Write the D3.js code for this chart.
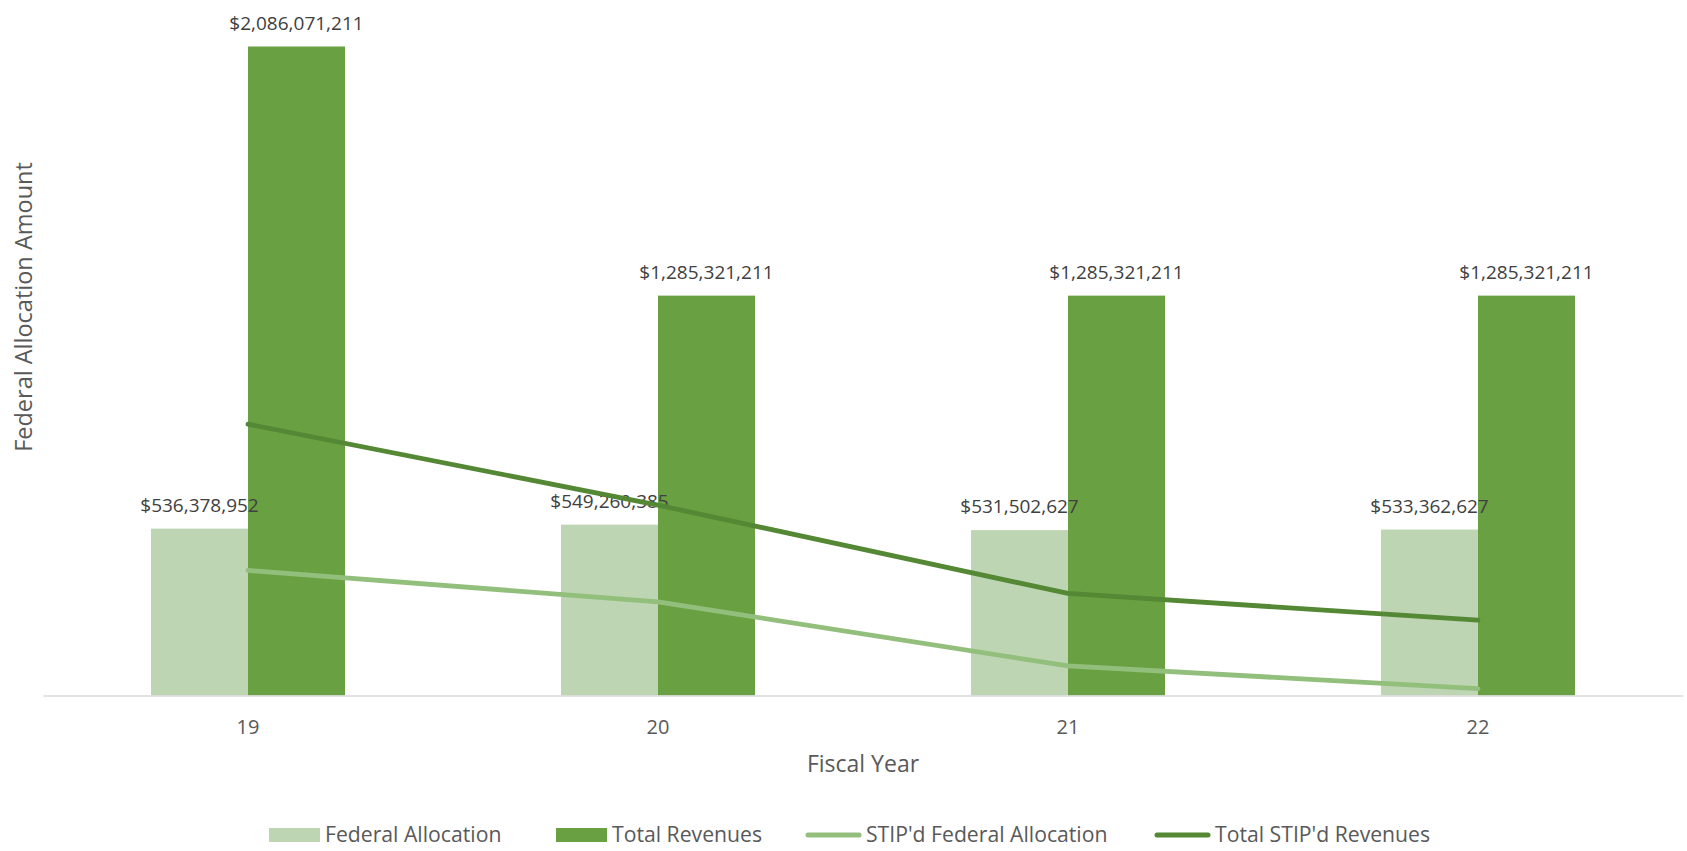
<!DOCTYPE html>
<html>
<head>
<meta charset="utf-8">
<script src="https://cdn.jsdelivr.net/npm/d3@7"></script>
<style>
  html, body { margin: 0; padding: 0; background: #ffffff; }
  svg { display: block; }
  text { font-family: "Open Sans", "Noto Sans", sans-serif; }
</style>
</head>
<body>
<svg id="chart" width="1687" height="851"></svg>
<script>
// ---- data ----
const years = ["19", "20", "21", "22"];
const federalAllocation = [536378952, 549260385, 531502627, 533362627];
const totalRevenues = [2086071211, 1285321211, 1285321211, 1285321211];
const stipdFederalAllocation = [402000000, 301000000, 95000000, 22000000];
const totalStipdRevenues = [872000000, 612000000, 328000000, 242000000];
const barSeriesNames = ["Federal Allocation", "Total Revenues"];
const lineSeriesNames = ["STIP'd Federal Allocation", "Total STIP'd Revenues"];
const xAxisTitle = "Fiscal Year";
const yAxisTitle = "Federal Allocation Amount";

// ---- styling ----
const colors = {
  "Federal Allocation": "#bdd5b2",
  "Total Revenues": "#69a142",
  "STIP'd Federal Allocation": "#93bf7d",
  "Total STIP'd Revenues": "#548835"
};

const svg = d3.select("#chart");
const plot = { left: 43, right: 1683, bottom: 695.5 };

const groupWidth = 194;
const step = (plot.right - plot.left) / years.length;
const pInner = 1 - groupWidth / step;

const x0 = d3.scaleBand()
  .domain(years)
  .range([plot.left, plot.right])
  .paddingInner(pInner)
  .paddingOuter(pInner / 2)
  .align(0.5);

const x1 = d3.scaleBand()
  .domain(barSeriesNames)
  .range([0, x0.bandwidth()])
  .padding(0);

const yMax = 2200000000;
const y = d3.scaleLinear()
  .domain([0, yMax])
  .range([plot.bottom, plot.bottom - yMax * (649 / 2086071211)]);

const barData = years.map((yr, i) => ({
  year: yr,
  values: [
    { series: "Federal Allocation", value: federalAllocation[i] },
    { series: "Total Revenues", value: totalRevenues[i] }
  ]
}));

// bars
const groups = svg.append("g").selectAll("g")
  .data(barData)
  .join("g")
  .attr("transform", d => `translate(${x0(d.year)},0)`);

groups.selectAll("rect")
  .data(d => d.values)
  .join("rect")
  .attr("x", d => x1(d.series))
  .attr("y", d => y(d.value))
  .attr("width", x1.bandwidth())
  .attr("height", d => y(0) - y(d.value))
  .attr("fill", d => colors[d.series]);

// x axis
const xAxis = d3.axisBottom(x0).tickSize(0).tickPadding(24);
const gx = svg.append("g")
  .attr("transform", `translate(0,${plot.bottom})`)
  .call(xAxis);
gx.select(".domain").attr("stroke", "#d9d9d9").attr("stroke-width", 1.5);
gx.selectAll("text")
  .attr("font-size", 20)
  .attr("fill", "#595959")
  .style("font-family", "'Open Sans', sans-serif");

// lines
const cx = d => x0(d) + x0.bandwidth() / 2;
const lineGen = d3.line()
  .x(d => cx(d.year))
  .y(d => y(d.value));

const lineData = [
  { name: "STIP'd Federal Allocation", values: years.map((yr, i) => ({ year: yr, value: stipdFederalAllocation[i] })) },
  { name: "Total STIP'd Revenues", values: years.map((yr, i) => ({ year: yr, value: totalStipdRevenues[i] })) }
];

svg.append("g").selectAll("path")
  .data(lineData)
  .join("path")
  .attr("d", d => lineGen(d.values))
  .attr("fill", "none")
  .attr("stroke", d => colors[d.name])
  .attr("stroke-width", 4.8)
  .attr("stroke-linecap", "round")
  .attr("stroke-linejoin", "round");

// data labels
const fmt = v => "$" + d3.format(",")(v);
groups.selectAll("text.lbl")
  .data(d => d.values)
  .join("text")
  .attr("class", "lbl")
  .attr("x", d => x1(d.series) + x1.bandwidth() / 2)
  .attr("y", d => y(d.value) - 17)
  .attr("text-anchor", "middle")
  .attr("font-size", 19)
  .attr("fill", "#404040")
  .text(d => fmt(d.value));

// axis titles
svg.append("text")
  .attr("x", (plot.left + plot.right) / 2)
  .attr("y", 772)
  .attr("text-anchor", "middle")
  .attr("font-size", 23)
  .attr("fill", "#595959")
  .text(xAxisTitle);

svg.append("text")
  .attr("transform", `translate(32,${307}) rotate(-90)`)
  .attr("text-anchor", "middle")
  .attr("font-size", 23.5)
  .attr("fill", "#595959")
  .text(yAxisTitle);

// legend
const legendItems = [
  { name: "Federal Allocation", type: "rect", x: 269 },
  { name: "Total Revenues", type: "rect", x: 556 },
  { name: "STIP'd Federal Allocation", type: "line", x: 806 },
  { name: "Total STIP'd Revenues", type: "line", x: 1155 }
];
const ly = 835;
const lg = svg.append("g").selectAll("g")
  .data(legendItems)
  .join("g")
  .attr("transform", d => `translate(${d.x},${ly})`);

lg.filter(d => d.type === "rect").append("rect")
  .attr("x", 0).attr("y", -7).attr("width", 51).attr("height", 14)
  .attr("fill", d => colors[d.name]);

lg.filter(d => d.type === "line").append("line")
  .attr("x1", 2).attr("x2", 53).attr("y1", 0).attr("y2", 0)
  .attr("stroke", d => colors[d.name])
  .attr("stroke-width", 5)
  .attr("stroke-linecap", "round");

lg.append("text")
  .attr("x", d => d.type === "rect" ? 56 : 60)
  .attr("y", 0)
  .attr("dy", "0.35em")
  .attr("font-size", 21.2)
  .attr("fill", "#595959")
  .text(d => d.name);
</script>
</body>
</html>
